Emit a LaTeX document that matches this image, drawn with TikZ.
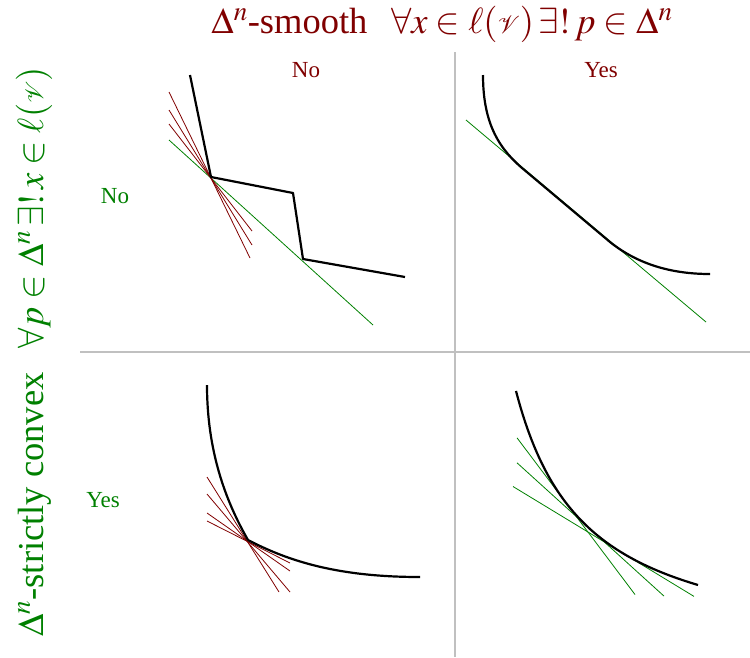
\documentclass[tikz,border=0pt]{standalone}
\usepackage{mathptmx}
\usepackage{mathrsfs}
\usepackage[no-math]{fontspec}
\setmainfont{Liberation Serif}
\definecolor{dred}{RGB}{128,0,0}
\definecolor{dgreen}{RGB}{0,128,0}
\definecolor{grid}{RGB}{192,192,192}
\tikzset{
  curve/.style={black,line width=2.2pt,line join=round},
  redline/.style={dred,line width=0.8pt},
  greenline/.style={dgreen,line width=0.8pt},
  sep/.style={grid,line width=1.6pt},
  bigtxt/.style={font=\fontsize{36.5}{44}\selectfont,inner sep=0pt},
  smalltxt/.style={font=\fontsize{23}{28}\selectfont,inner sep=0pt}
}
\begin{document}
\begin{tikzpicture}[x=1pt,y={(0pt,-1pt)}]
\useasboundingbox (0,0) rectangle (750,657);
% separators
\draw[sep] (455,52) -- (455,657);
\draw[sep] (80,352) -- (750,352);
% titles
\node[bigtxt,dred,anchor=base] (title) at (442,33.5) {$\Delta^n$-smooth\hspace{0.65em}$\forall x\in\ell(\mathscr{V})\,\exists!\,p\in\Delta^n$};
\node[bigtxt,dgreen,anchor=base,rotate=90] (side) at (43,352) {$\Delta^n$-strictly convex\hspace{0.65em}$\forall p\in\Delta^n\,\exists!\,x\in\ell(\mathscr{V})$};
\node[smalltxt,dred,anchor=base] (cno) at (306,77) {No};
\node[smalltxt,dred,anchor=base] (cyes) at (601,77) {Yes};
\node[smalltxt,dgreen,anchor=base] (rno) at (115,203) {No};
\node[smalltxt,dgreen,anchor=base] (ryes) at (103,507) {Yes};
% top-left quadrant
\draw[greenline] (169,140) -- (373,325);
\draw[redline] (169,92) -- (250,258);
\draw[redline] (169,110) -- (252,245);
\draw[redline] (169,124) -- (252,231);
\draw[curve] (190,75) -- (211,177) -- (293,193) -- (303,259) -- (405,277);
% top-right quadrant
\draw[greenline] (466,120) -- (706,322);
\draw[curve] (483,75) .. controls (483,125) and (500,150) .. (525,170.5) -- (610,242) .. controls (640,266) and (675,274) .. (710,274);
% bottom-left quadrant
\draw[redline] (207,477) -- (279,592);
\draw[redline] (207,494) -- (290,592);
\draw[redline] (207,513) -- (290,571);
\draw[redline] (207,521) -- (290,563);
\draw[curve] (207,385) .. controls (207,450) and (225,500) .. (248,540) .. controls (290,562) and (340,577) .. (420,577);
% bottom-right quadrant
\draw[greenline] (517,437.8) -- (635,594.5);
\draw[greenline] (517,462.8) -- (664,596.1);
\draw[greenline] (513,486.5) -- (694,596.4);
\draw[curve] plot[domain=516:698,samples=80,smooth] (\x,{659.7-188.38*(100/(\x-445.9))});
\end{tikzpicture}
\end{document}
